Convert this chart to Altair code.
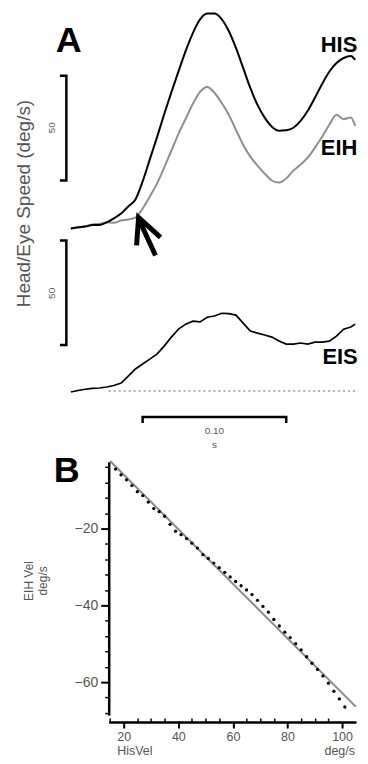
import altair as alt
import pandas as pd

# ---------------- Panel A data (time in ms, speed in deg/s) ----------------
T_MS = [0, 5, 10, 15, 20, 25, 30, 35, 40, 45, 50, 55, 60, 65, 70, 75, 80, 85, 90, 95,
        100, 105, 110, 115, 120, 125, 130, 135, 140, 145, 150, 155, 160, 165, 170, 175,
        180, 185, 190, 195, 198]
HIS_SPEED = [0.0, 0.6, 0.9, 1.6, 1.7, 2.9, 4.8, 7.1, 10.5, 13.8,
             22.4, 33.0, 43.5, 54.5, 65.0, 75.0, 84.8, 93.3, 99.8, 102.6,
             102.6, 100.0, 94.3, 86.2, 76.7, 67.1, 59.0, 52.9, 48.6, 46.7,
             46.9, 48.1, 51.4, 56.2, 62.4, 69.0, 74.8, 79.0, 81.4, 82.4, 80.5]
EIH_SPEED = [0.0, 0.4, 1.0, 1.9, 2.2, 2.9, 2.7, 3.8, 4.3, 5.2,
             9.5, 15.2, 21.4, 29.0, 37.1, 45.2, 52.4, 59.5, 65.2, 67.6,
             64.8, 60.0, 54.3, 47.1, 40.0, 34.3, 30.0, 26.2, 22.9, 21.9,
             23.8, 27.6, 30.5, 33.8, 38.6, 43.8, 49.5, 54.3, 52.2, 53.0, 49.0]
EIS_SPEED = [-0.5, 0.2, 0.8, 1.2, 1.4, 1.9, 2.6, 3.8, 7.1, 10.5,
             12.9, 15.2, 17.6, 21.4, 25.7, 29.5, 31.9, 33.3, 33.0, 35.2,
             35.8, 37.1, 36.9, 36.2, 32.4, 28.6, 27.6, 26.7, 25.7, 23.8,
             22.4, 22.4, 22.9, 22.4, 23.3, 23.3, 23.8, 26.2, 29.5, 30.5, 31.9]
EIS_OFFSET = -77.6   # EIS trace drawn below the HIS/EIH pair

# ---------------- Panel B data ----------------
HIS_VEL = [17, 19, 21, 23, 25, 27, 29, 31, 33, 35, 37, 39, 41, 43, 45, 47, 49, 51, 53, 55,
           57, 59, 61, 63, 65, 67, 69, 71, 73, 75, 77, 79, 81, 83, 85, 87, 89, 91, 93, 95,
           97, 99, 101]
EIH_VEL = [-4.5, -6.0, -7.3, -8.8, -10.4, -11.4, -13.1, -14.8, -15.6, -16.8,
           -18.9, -20.7, -21.6, -22.6, -23.8, -25.1, -26.8, -27.8, -29.0, -30.2,
           -31.4, -32.6, -33.8, -34.9, -36.0, -37.2, -38.7, -40.3, -41.8, -43.7,
           -45.4, -47.0, -48.4, -50.0, -51.6, -53.4, -55.1, -56.7, -58.4, -60.3,
           -62.4, -64.4, -66.5]
FIT_HIS = [15.0, 105.0]
FIT_EIH = [-2.4, -66.4]

X_TICKS = [20, 40, 60, 80, 100]
Y_TICKS = [-20, -40, -60]
X_MINOR = [15, 25, 30, 35, 45, 50, 55, 65, 70, 75, 85, 90, 95]
Y_MINOR = [-4, -8, -12, -16, -24, -28, -32, -36, -44, -48, -52, -56, -64, -68]

FONT = "Liberation Sans"
GRAY_TXT = "#555555"

# ================= Panel A =================
xA = alt.Scale(domain=[26.39, 198.61], nice=False, zero=False)
yA = alt.Scale(domain=[-105.71, 104.76], nice=False, zero=False)

traces = pd.DataFrame({"t": T_MS, "his": HIS_SPEED, "eih": EIH_SPEED, "eis": EIS_SPEED})
baseA = alt.Chart(traces)

his_line = baseA.mark_line(color="black", strokeWidth=2, interpolate="monotone").encode(
    x=alt.X("t:Q", scale=xA, axis=None), y=alt.Y("his:Q", scale=yA, axis=None))
eih_line = baseA.mark_line(color="#8f8f8f", strokeWidth=2, interpolate="monotone").encode(
    x=alt.X("t:Q", scale=xA, axis=None), y=alt.Y("eih:Q", scale=yA, axis=None))
eis_line = baseA.transform_calculate(eis_plot=f"datum.eis + ({EIS_OFFSET})").mark_line(
    color="black", strokeWidth=1.7).encode(
    x=alt.X("t:Q", scale=xA, axis=None), y=alt.Y("eis_plot:Q", scale=yA, axis=None))

dotted = alt.Chart(pd.DataFrame({"t1": [26.4], "t2": [198.6], "v": [EIS_OFFSET]})).mark_rule(
    color="#9a9a9a", strokeWidth=1.5, strokeDash=[2, 3]).encode(
    x=alt.X("t1:Q", scale=xA, axis=None), x2="t2:Q", y=alt.Y("v:Q", scale=yA, axis=None))

# scale bars (50 deg/s, 0.10 s)
bar_rows = []
for pid, pts in [("bar1", [(-7.6, 72.9), (-3.1, 72.9), (-3.1, 22.9), (-7.6, 22.9)]),
                 ("bar2", [(-7.6, -5.7), (-3.1, -5.7), (-3.1, -55.7), (-7.6, -55.7)]),
                 ("time", [(50, -92.9), (50, -90), (150, -90), (150, -92.9)])]:
    for i, (t, v) in enumerate(pts):
        bar_rows.append({"id": pid, "i": i, "t": t, "v": v})
bars = alt.Chart(pd.DataFrame(bar_rows)).mark_line(
    color="black", strokeWidth=2.5, strokeJoin="miter").encode(
    x=alt.X("t:Q", scale=xA, axis=None), y=alt.Y("v:Q", scale=yA, axis=None),
    detail="id:N", order="i:Q")

arrow_rows = []
for pid, pts in [("shaft", [(59.0, -12.9), (47.6, 4.0)]),
                 ("head", [(45.8, -8.1), (47.2, 5.2), (62.5, -4.3)])]:
    for i, (t, v) in enumerate(pts):
        arrow_rows.append({"id": pid, "i": i, "t": t, "v": v})
arrow = alt.Chart(pd.DataFrame(arrow_rows)).mark_line(
    color="black", strokeWidth=5, strokeJoin="miter", strokeCap="butt").encode(
    x=alt.X("t:Q", scale=xA, axis=None), y=alt.Y("v:Q", scale=yA, axis=None),
    detail="id:N", order="i:Q")

bold_txt = pd.DataFrame({
    "label": ["A", "HIS", "EIH", "EIS"],
    "t": [-1.4, 186.8, 186.8, 187.5],
    "v": [89.5, 87.6, 38.6, -61.4],
    "fs": [36, 22, 22, 22]})
bold_labels = alt.Chart(bold_txt).mark_text(
    fontWeight="bold", color="black", align="center", baseline="middle").encode(
    x=alt.X("t:Q", scale=xA, axis=None), y=alt.Y("v:Q", scale=yA, axis=None),
    text="label:N", size=alt.Size("fs:Q", scale=None))

gray_txt = pd.DataFrame({
    "label": ["Head/Eye Speed (deg/s)", "50", "50", "0.10", "s"],
    "t": [-32.6, -13.2, -13.2, 100.0, 100.0],
    "v": [11.9, 48.1, -31.0, -96.7, -103.3],
    "fs": [19, 10, 10, 10, 10],
    "ang": [270, 270, 270, 0, 0]})
gray_labels = alt.Chart(gray_txt).mark_text(
    color=GRAY_TXT, align="center", baseline="middle").encode(
    x=alt.X("t:Q", scale=xA, axis=None), y=alt.Y("v:Q", scale=yA, axis=None),
    text="label:N", size=alt.Size("fs:Q", scale=None), angle=alt.Angle("ang:Q", scale=None))

panelA = alt.layer(dotted, bars, eis_line, eih_line, his_line, arrow,
                   bold_labels, gray_labels).properties(width=248, height=442)

# ================= Panel B =================
xB = alt.Scale(domain=[14.5, 105.1], nice=False, zero=False)
yB = alt.Scale(domain=[-68.6, -2.6], nice=False, zero=False)

axis_x = alt.Axis(orient="bottom", values=X_TICKS, offset=7, domainColor="black",
                  domainWidth=2.5, tickColor="black", tickWidth=2, tickSize=6,
                  labelFontSize=12.5, labelColor=GRAY_TXT, labelPadding=3, labelFlush=False,
                  grid=False, title="HisVel", titleFontSize=12.5, titleFontWeight="normal",
                  titleColor=GRAY_TXT, titleAnchor="start", titleAlign="left",
                  titleX=8, titleY=29, titleBaseline="middle")
axis_y = alt.Axis(orient="left", values=Y_TICKS, domainColor="black", domainWidth=2.5,
                  tickColor="black", tickWidth=2, tickSize=8, labelFontSize=14,
                  labelColor=GRAY_TXT, labelPadding=3, grid=False,
                  title=["EIH Vel", "deg/s"], titleFontSize=12, titleFontWeight="normal",
                  titleColor=GRAY_TXT, titleX=-80, titleY=119, titleAngle=270,
                  titleAlign="center", titleBaseline="middle", titleLineHeight=14)
axis_xm = alt.Axis(orient="bottom", values=X_MINOR, offset=3, domain=False, labels=False,
                   tickColor="black", tickWidth=1.5, tickSize=4, grid=False, title=None)
axis_ym = alt.Axis(orient="left", values=Y_MINOR, domain=False, labels=False,
                   tickColor="black", tickWidth=1.5, tickSize=4, grid=False, title=None)

fit_df = pd.DataFrame({"hv": FIT_HIS, "ev": FIT_EIH})
fit = alt.Chart(fit_df).mark_line(color="#8a8a8a", strokeWidth=2).encode(
    x=alt.X("hv:Q", scale=xB, axis=axis_x), y=alt.Y("ev:Q", scale=yB, axis=axis_y))
minor = alt.Chart(fit_df).mark_point(opacity=0).encode(
    x=alt.X("hv:Q", scale=xB, axis=axis_xm), y=alt.Y("ev:Q", scale=yB, axis=axis_ym))
dots = alt.Chart(pd.DataFrame({"hv": HIS_VEL, "ev": EIH_VEL})).mark_circle(
    color="black", size=11, opacity=1).encode(
    x=alt.X("hv:Q", scale=xB, axis=None), y=alt.Y("ev:Q", scale=yB, axis=None))
labB = alt.Chart(pd.DataFrame({"label": ["B"], "hv": [-0.85], "ev": [-4.9]})).mark_text(
    fontWeight="bold", fontSize=36, color="black", align="center", baseline="middle").encode(
    x=alt.X("hv:Q", scale=xB, axis=None), y=alt.Y("ev:Q", scale=yB, axis=None), text="label:N")
unit = alt.Chart(pd.DataFrame({"label": ["deg/s"], "hv": [104.7], "ev": [-78.0]})).mark_text(
    fontSize=12.5, color=GRAY_TXT, align="right", baseline="middle").encode(
    x=alt.X("hv:Q", scale=xB, axis=None), y=alt.Y("ev:Q", scale=yB, axis=None), text="label:N")

panelB = alt.layer(fit, minor, dots, labB, unit).resolve_axis(
    x="independent", y="independent").properties(width=248, height=254)

chart = alt.vconcat(panelA, panelB, spacing=2).properties(
    padding={"left": 7, "top": 0, "right": 0, "bottom": 0}
).configure(font=FONT).configure_view(stroke=None)

chart.save("out.html", embed_options={"renderer": "svg", "actions": False})
